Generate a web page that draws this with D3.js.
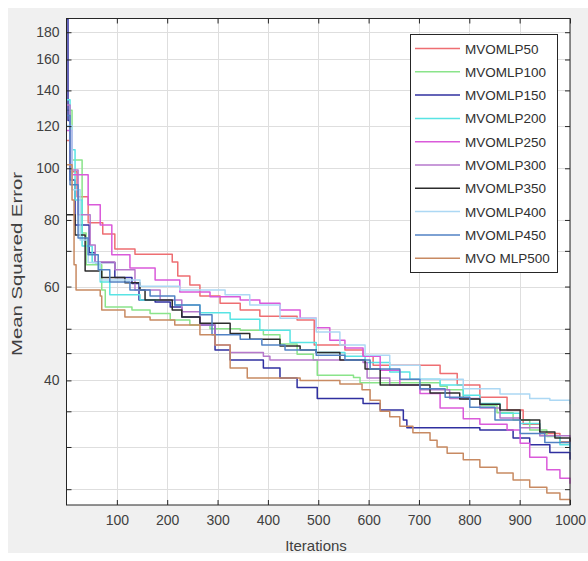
<!DOCTYPE html>
<html>
<head>
<meta charset="utf-8">
<script src="https://cdn.jsdelivr.net/npm/d3@7"></script>
<style>
  body { margin: 0; background: #fff; }
  svg { display: block; font-family: "Liberation Sans", Arial, sans-serif; }
</style>
</head>
<body>
<svg id="chart" width="588" height="561"></svg>
<script>
// series names as in the legend
var seriesNames = ["MVOMLP50", "MVOMLP100", "MVOMLP150", "MVOMLP200", "MVOMLP250",
                   "MVOMLP300", "MVOMLP350", "MVOMLP400", "MVOMLP450", "MVO MLP500"];
var seriesColors = ["#ee6e72", "#8ae48a", "#3030a0", "#58e4e4", "#da5ada",
                    "#b678cc", "#2c2c2c", "#acd8f4", "#5282c4", "#c88a62"];

// [iteration, MSE] change points
var mvo50 = [[0,112.7],[7,98.5],[21,88.4],[43,79.0],[72,75.3],[96,70.6],[136,69.0],[210,66.7],
  [221,62.8],[245,60.4],[265,57.6],[305,55.8],[345,54.2],[384,52.8],[458,51.9],[492,46.6],
  [553,45.6],[589,44.4],[609,42.7],[742,41.2],[776,39.2],[821,37.2],[875,35.2],[907,33.1],
  [940,31.8],[980,30.7],[1000,30.3]];
var mvo100 = [[0,128.5],[11,103.7],[31,75.6],[39,65.9],[70,59.1],[77,54.9],[130,54.2],[166,53.4],
  [206,51.9],[245,50.8],[285,50.0],[345,49.7],[391,48.7],[424,46.8],[458,44.8],[490,43.7],
  [498,40.9],[570,40.5],[583,39.6],[742,39.0],[756,38.4],[788,36.9],[821,35.9],[855,34.8],
  [887,33.7],[920,32.3],[954,31.4],[980,30.6],[1000,30.0]];
var mvo150 = [[0,190.5],[3,122.9],[7,95.1],[17,78.3],[45,69.4],[57,66.6],[96,62.4],[130,60.8],
  [144,56.6],[176,56.1],[206,54.9],[229,52.6],[265,50.8],[295,45.6],[325,43.7],[391,42.2],
  [424,40.4],[458,38.8],[498,37.0],[589,36.2],[623,35.2],[669,33.7],[676,32.6],[821,32.3],
  [887,31.2],[920,30.3],[960,29.3],[1000,28.4]];
var mvo200 = [[0,134.4],[7,108.3],[17,87.2],[31,71.5],[51,66.6],[67,61.2],[86,57.9],[146,56.6],
  [215,55.4],[265,53.6],[325,52.1],[384,49.7],[444,47.1],[496,45.1],[553,44.4],[593,43.2],
  [642,41.5],[682,40.2],[742,39.2],[788,37.5],[821,36.2],[861,34.7],[901,33.2],[940,31.5],
  [980,30.3],[1000,29.7]];
var mvo250 = [[0,117.7],[11,97.2],[43,85.4],[67,78.3],[90,68.8],[126,65.0],[176,61.7],[225,58.6],
  [285,57.4],[345,56.6],[384,55.8],[424,54.2],[464,52.3],[496,50.2],[523,47.6],[553,46.0],
  [589,44.4],[623,41.8],[662,39.2],[702,37.8],[742,35.5],[788,33.9],[821,33.1],[875,32.3],
  [901,30.5],[920,28.7],[954,27.2],[980,26.2],[1000,25.6]];
var mvo300 = [[0,131.4],[7,99.3],[23,81.8],[47,71.8],[57,66.7],[96,64.5],[136,59.1],[186,56.6],
  [229,53.8],[265,50.8],[295,46.6],[325,45.1],[391,44.4],[404,43.7],[589,43.2],[597,40.4],
  [642,39.2],[702,38.4],[761,37.0],[821,35.5],[861,34.0],[901,32.6],[940,31.5],[1000,30.5]];
var mvo350 = [[0,81.8],[17,75.0],[37,64.2],[70,62.4],[116,61.0],[146,59.1],[156,56.6],[210,54.2],
  [229,52.6],[265,51.2],[325,49.0],[364,47.8],[424,46.4],[464,45.6],[496,45.1],[543,43.7],
  [593,42.0],[623,39.2],[722,37.9],[781,36.9],[821,36.1],[861,35.2],[901,33.7],[940,32.0],
  [970,31.2],[1000,30.7]];
var mvo400 = [[0,120.3],[11,91.1],[27,73.4],[43,66.6],[67,61.7],[146,60.1],[225,59.1],[315,57.9],
  [364,55.4],[424,52.3],[496,49.3],[543,46.6],[593,44.6],[642,42.7],[702,40.2],[788,38.6],
  [861,37.7],[920,37.0],[960,36.7],[1000,36.1]];
var mvo450 = [[0,125.6],[7,93.1],[23,74.0],[43,68.8],[63,64.5],[86,61.2],[126,59.1],[166,57.6],
  [215,55.4],[265,53.1],[289,48.7],[345,47.8],[388,46.6],[434,45.6],[496,44.6],[553,43.7],
  [603,42.0],[662,40.2],[702,38.6],[752,37.2],[801,35.6],[851,33.7],[901,31.8],[950,30.6],
  [1000,29.4]];
var mvo500 = [[0,101.5],[11,87.2],[15,65.9],[19,59.1],[67,57.6],[70,54.2],[116,52.6],[166,51.9],
  [215,50.8],[265,48.7],[295,46.6],[325,42.2],[359,40.4],[464,40.0],[543,39.4],[587,38.4],
  [603,36.7],[623,35.0],[642,34.2],[662,32.8],[688,31.9],[722,30.9],[736,30.0],[756,29.2],
  [788,28.4],[821,27.5],[855,26.8],[887,26.0],[920,25.2],[954,24.6],[980,23.9],[1000,23.5]];

var seriesData = [mvo50, mvo100, mvo150, mvo200, mvo250, mvo300, mvo350, mvo400, mvo450, mvo500];

var xTicks = [100, 200, 300, 400, 500, 600, 700, 800, 900, 1000];
var yTickLabels = [40, 60, 80, 100, 120, 140, 160, 180];
var yMinorTicks = [25, 30, 35, 45, 50, 70];

function drawChart() {
    var svg = d3.select("#chart");
    var W = 588, H = 561;
    var pLeft = 66.5, pRight = 570, pTop = 18.5, pBottom = 505;

    // figure background
    svg.append("rect").attr("x", 0).attr("y", 0).attr("width", W).attr("height", H).attr("fill", "#ffffff");
    svg.append("rect").attr("x", 8).attr("y", 8).attr("width", W - 8).attr("height", 545).attr("fill", "#f0f0f0");
    svg.append("rect").attr("x", pLeft).attr("y", pTop).attr("width", pRight - pLeft).attr("height", pBottom - pTop)
       .attr("fill", "#ffffff");

    var x = d3.scaleLinear().domain([0, 1000]).range([pLeft, pRight]);
    var y = d3.scaleLog().domain([23.35, 191]).range([pBottom, pTop]);

    var allY = yTickLabels.concat(yMinorTicks);

    // grid
    var grid = svg.append("g").attr("stroke", "#dedede").attr("stroke-width", 1);
    xTicks.forEach(function(t) {
        grid.append("line").attr("x1", Math.round(x(t)) + 0.5).attr("x2", Math.round(x(t)) + 0.5)
            .attr("y1", pTop).attr("y2", pBottom);
    });
    allY.forEach(function(t) {
        grid.append("line").attr("x1", pLeft).attr("x2", pRight)
            .attr("y1", Math.round(y(t)) + 0.5).attr("y2", Math.round(y(t)) + 0.5);
    });

    // lines
    var line = d3.line()
        .x(function(d) { return x(d[0]); })
        .y(function(d) { return y(d[1]); })
        .curve(d3.curveStepAfter);

    var plot = svg.append("g");
    seriesData.forEach(function(s, i) {
        plot.append("path")
            .attr("d", line(s))
            .attr("fill", "none")
            .attr("stroke", seriesColors[i])
            .attr("stroke-width", 1.5)
            .attr("stroke-linejoin", "round");
    });

    // axes (ticks inward, mirrored like matlab)
    var xAxis = d3.axisBottom(x).tickValues(xTicks).tickSizeInner(-5).tickSizeOuter(0).tickPadding(10)
        .tickFormat(d3.format("d"));
    var gx = svg.append("g").attr("transform", "translate(0," + pBottom + ")").call(xAxis);
    var gxTop = svg.append("g").attr("transform", "translate(0," + pTop + ")")
        .call(d3.axisTop(x).tickValues(xTicks).tickSizeInner(-5).tickSizeOuter(0).tickFormat(""));

    var yAxis = d3.axisLeft(y).tickValues(allY).tickSizeInner(-5).tickSizeOuter(0).tickPadding(7)
        .tickFormat(function(d) { return yTickLabels.indexOf(d) >= 0 ? d : ""; });
    var gy = svg.append("g").attr("transform", "translate(" + pLeft + ",0)").call(yAxis);
    var gyRight = svg.append("g").attr("transform", "translate(" + pRight + ",0)")
        .call(d3.axisRight(y).tickValues(allY).tickSizeInner(-5).tickSizeOuter(0).tickFormat(""));

    [gx, gxTop, gy, gyRight].forEach(function(g) {
        g.select(".domain").remove();
        g.selectAll("line").attr("stroke", "#262626");
        g.selectAll("text").attr("fill", "#404040").style("font-size", "14px")
            .style("font-family", "Liberation Sans, Arial, sans-serif");
    });

    // box
    svg.append("rect").attr("x", pLeft).attr("y", pTop).attr("width", pRight - pLeft).attr("height", pBottom - pTop)
       .attr("fill", "none").attr("stroke", "#262626").attr("stroke-width", 1);

    // axis labels
    svg.append("text").attr("x", 316).attr("y", 551).attr("text-anchor", "middle")
       .attr("fill", "#404040").style("font-size", "15px").text("Iterations");
    svg.append("text").attr("transform", "translate(22,264) rotate(-90)").attr("text-anchor", "middle")
       .attr("fill", "#404040").style("font-size", "15px")
       .attr("textLength", 184).attr("lengthAdjust", "spacingAndGlyphs")
       .text("Mean Squared Error");

    // legend
    var lg = svg.append("g");
    lg.append("rect").attr("x", 410.5).attr("y", 34.5).attr("width", 147).attr("height", 238)
      .attr("fill", "#ffffff").attr("stroke", "#262626").attr("stroke-width", 1);
    seriesNames.forEach(function(name, i) {
        var ly = 48.5 + i * 23.3;
        lg.append("line").attr("x1", 415).attr("x2", 460).attr("y1", ly).attr("y2", ly)
          .attr("stroke", seriesColors[i]).attr("stroke-width", 1.5);
        lg.append("text").attr("x", 465).attr("y", ly + 5).attr("fill", "#303030")
          .style("font-size", "13.5px").text(name);
    });
}

drawChart();
</script>
</body>
</html>
